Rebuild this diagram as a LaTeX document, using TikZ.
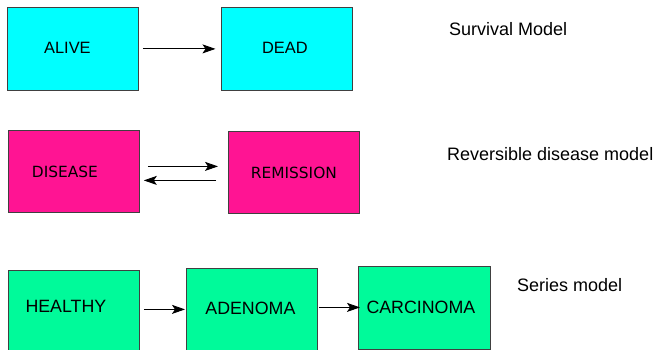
\documentclass[tikz,border=0pt]{standalone}
\usepackage{fontspec}
\setmainfont{Liberation Sans}
\newfontfamily\dejavu{DejaVu Sans}
\usetikzlibrary{arrows.meta}
\definecolor{aqua}{RGB}{0,255,255}
\definecolor{deeppink}{RGB}{255,20,147}
\definecolor{springgreen}{RGB}{0,250,154}

\begin{document}
\begin{tikzpicture}[x=1pt, y=-1pt,
    state/.style={draw=black!75, line width=0.8pt, anchor=north west, inner sep=0pt,
        minimum width=131pt, minimum height=83pt},
    cyantext/.style={font=\fontsize{16.4}{18}\selectfont},
    pinktext/.style={font=\dejavu\fontsize{15.4}{17}\selectfont},
    greentext/.style={font=\fontsize{17.8}{20}\selectfont},
    arr/.style={-{Stealth[length=13pt, width=9pt, inset=3pt]}, line width=0.9pt,
        shorten <=4pt, shorten >=5pt},
    title/.style={anchor=west, inner sep=0pt, font=\fontsize{18}{20}\selectfont}]
    \useasboundingbox (0,0) rectangle (656,350);
    \clip (0,0) rectangle (656,350);

    % Survival model
    \node[state, fill=aqua, label={[cyantext, xshift=-5.5pt, yshift=1pt]center:ALIVE}] (alive) at (7,7) {};
    \node[state, fill=aqua, label={[cyantext, xshift=-1.5pt, yshift=1pt]center:DEAD}] (dead) at (220.5,7) {};
    \draw[arr] (alive) -- (dead);
    \node[title] (survival) at (449,29.5) {Survival Model};

    % Reversible disease model
    \node[state, fill=deeppink, minimum height=82pt, label={[pinktext, xshift=-9pt]center:DISEASE}] (disease) at (8,130) {};
    \node[state, fill=deeppink, minimum height=82pt, label={[pinktext]center:REMISSION}] (remission) at (228,131) {};
    \draw[arr, shorten <=8pt, shorten >=10pt] ([yshift=5pt]disease.east) -- ([yshift=5pt]disease.east -| remission.west);
    \draw[arr, shorten <=12pt, shorten >=4pt] ([yshift=-9pt]disease.east -| remission.west) -- ([yshift=-9pt]disease.east);
    \node[title] (reversible) at (447,154.5) {Reversible disease model};

    % Series model
    \node[state, fill=springgreen, minimum height=84pt, label={[greentext, xshift=-8pt, yshift=6pt]center:HEALTHY}] (healthy) at (8,270) {};
    \node[state, fill=springgreen, minimum height=84pt, label={[greentext, xshift=-1.5pt, yshift=2pt]center:ADENOMA}] (adenoma) at (186,268) {};
    \node[state, fill=springgreen, minimum width=132pt, label={[greentext, xshift=-3.5pt, yshift=1pt]center:CARCINOMA}] (carcinoma) at (358,266) {};
    \draw[arr, shorten >=1pt] ([yshift=3pt]healthy.east) -- ([yshift=3pt]healthy.east -| adenoma.west);
    \draw[arr, shorten <=1pt, shorten >=-2pt] ([yshift=3pt]adenoma.east) -- ([yshift=3pt]adenoma.east -| carcinoma.west);
    \node[title] (series) at (517,285) {Series model};
\end{tikzpicture}
\end{document}
